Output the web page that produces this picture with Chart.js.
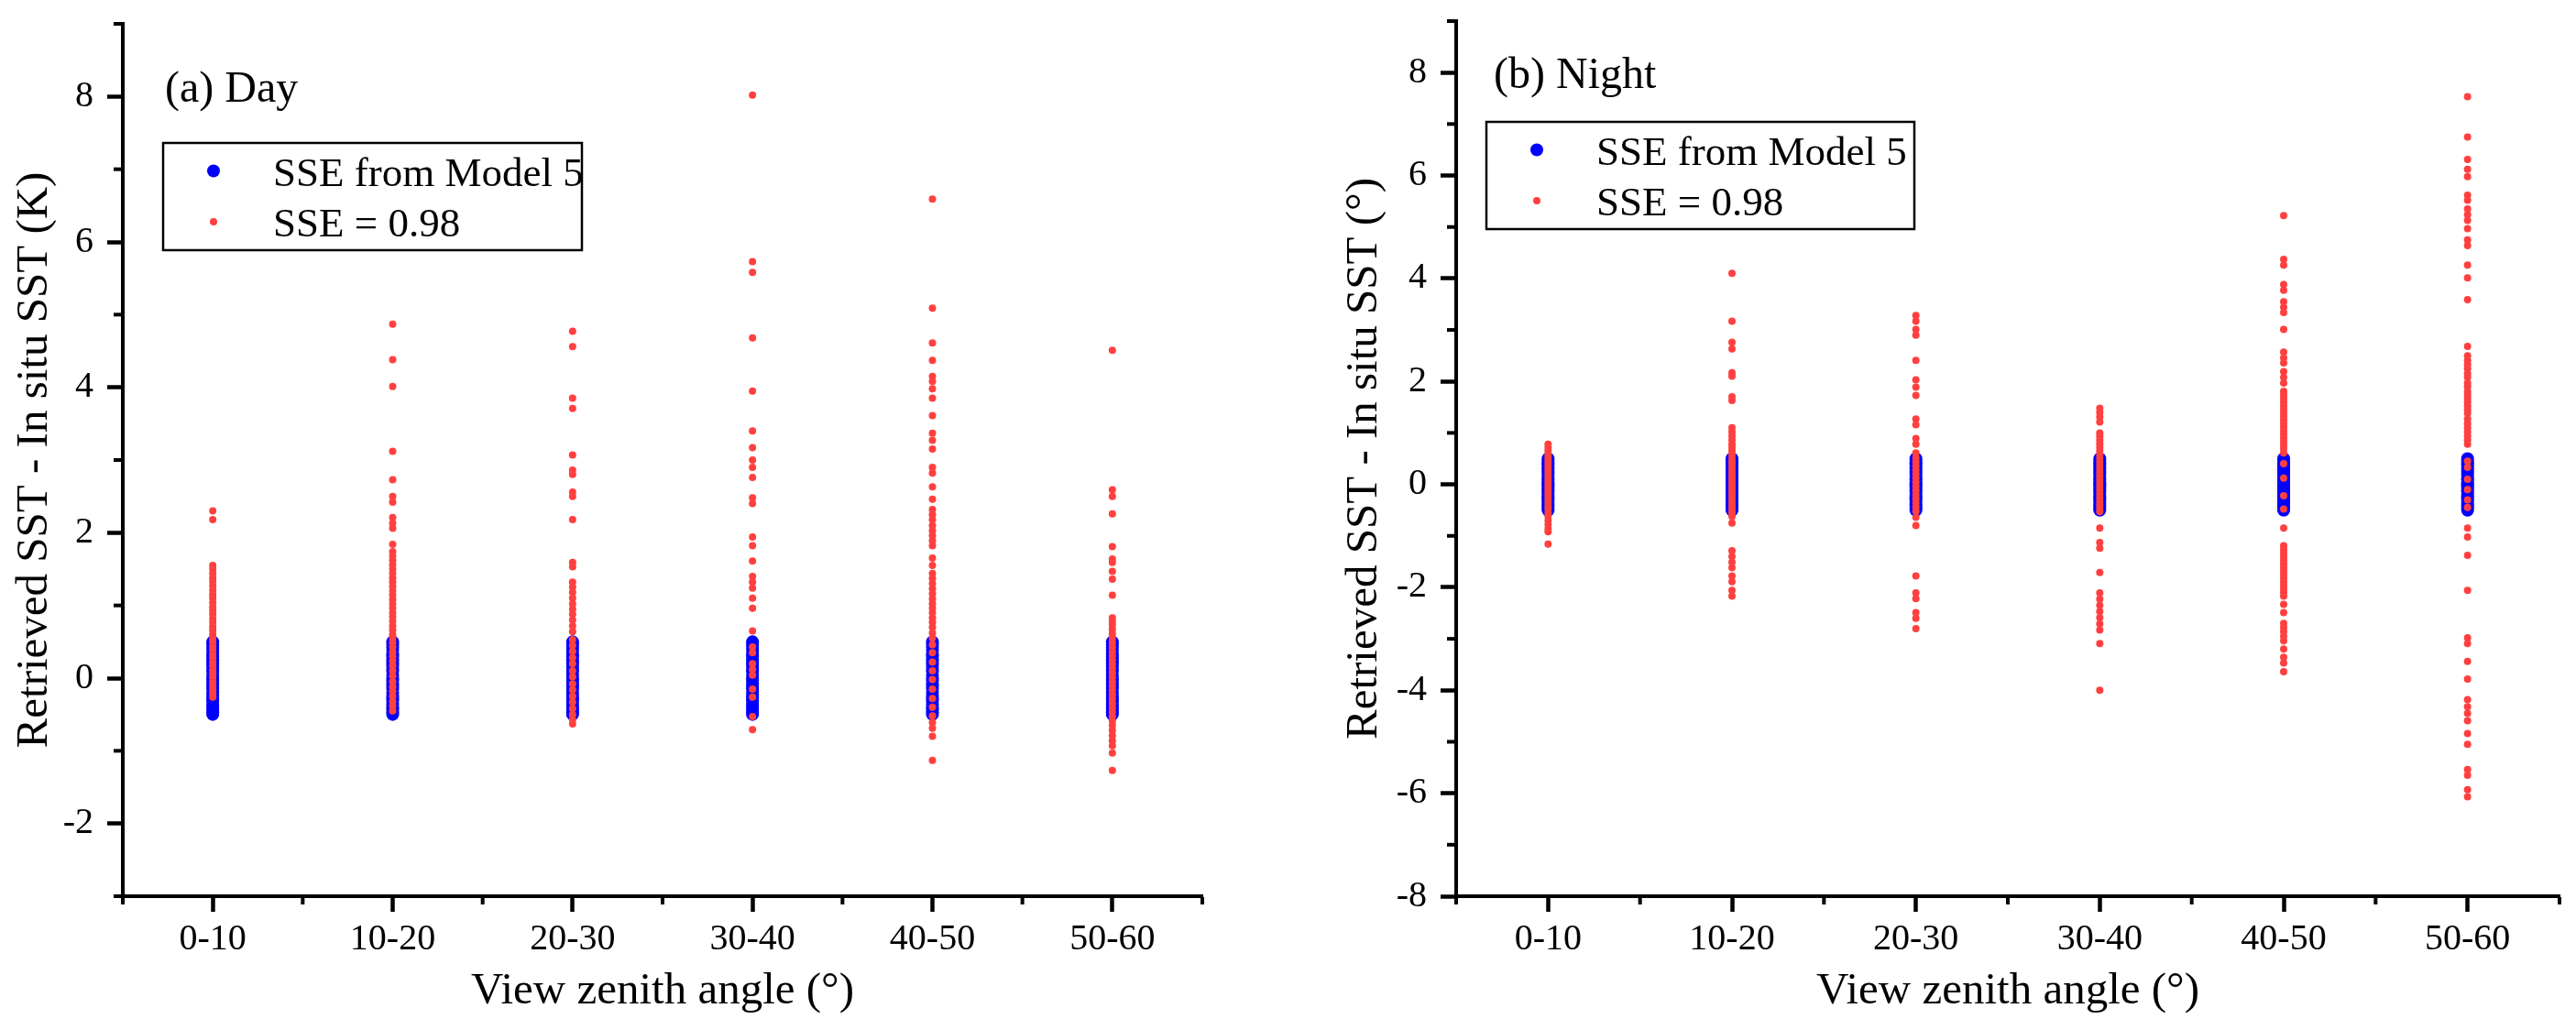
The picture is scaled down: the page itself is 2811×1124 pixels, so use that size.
<!DOCTYPE html>
<html>
<head>
<meta charset="utf-8">
<script src="https://cdn.jsdelivr.net/npm/chart.js@4.4.1/dist/chart.umd.min.js"></script>
<style>
  html, body { margin: 0; padding: 0; background: #fff; }
  #wrap { position: relative; width: 2811px; height: 1124px; overflow: hidden; background: #fff; }
  #dayCanvas { position: absolute; left: 0; top: 0; }
  #nightCanvas { position: absolute; left: 1405px; top: 0; }
</style>
</head>
<body>
<div id="wrap">
  <canvas id="dayCanvas" width="1405" height="1124"></canvas>
  <canvas id="nightCanvas" width="1406" height="1124"></canvas>
</div>
<script>
// ======================= DATA =======================

const categories = ['0-10', '10-20', '20-30', '30-40', '40-50', '50-60'];

// SSE from Model 5 : dense band in every angle class
const model5Band = [-0.5, -0.47, -0.43, -0.4, -0.36, -0.31, -0.28, -0.24, -0.2, -0.15, -0.12, -0.08,
  -0.03, 0, 0.04, 0.09, 0.12, 0.17, 0.21, 0.25, 0.3, 0.33, 0.38, 0.42, 0.46, 0.5];

// SSE = 0.98, day (one list per angle class)
const dayFixed0 = [2.30, 2.18, 1.55, 1.50, 1.44, 1.38, 1.33, 1.27, 1.21, 1.15, 1.10, 1.04, 0.98, 0.93, 0.88,
  0.82, 0.77, 0.71, 0.66, 0.60, 0.55, 0.50, 0.44, 0.39, 0.33, 0.28, 0.22, 0.17, 0.11, 0.06, 0.01, -0.05,
  -0.10, -0.16, -0.21, -0.26];
const dayFixed1 = [4.87, 4.38, 4.01, 3.12, 2.73, 2.50, 2.42, 2.21, 2.13, 2.06, 1.84, 1.74, 1.68, 1.62, 1.56,
  1.50, 1.44, 1.38, 1.32, 1.26, 1.20, 1.14, 1.08, 1.02, 0.96, 0.90, 0.84, 0.78, 0.72, 0.66, 0.60, 0.55, 0.49,
  0.43, 0.36, 0.30, 0.24, 0.17, 0.10, 0.03, -0.05, -0.12, -0.18, -0.25, -0.32, -0.38, -0.45];
const dayFixed2 = [4.77, 4.56, 3.85, 3.71, 3.07, 2.86, 2.80, 2.56, 2.50, 2.18, 1.59, 1.53, 1.32, 1.25, 1.18,
  1.10, 1.02, 0.95, 0.88, 0.80, 0.72, 0.64, 0.53, 0.45, 0.37, 0.28, 0.20, 0.10, 0.02, -0.08, -0.16, -0.25,
  -0.33, -0.42, -0.50, -0.57, -0.63];
const dayFixed3 = [8.02, 5.73, 5.58, 4.68, 3.95, 3.40, 3.17, 3.00, 2.90, 2.76, 2.48, 2.40, 1.94, 1.82, 1.61,
  1.40, 1.32, 1.24, 1.10, 0.96, 0.65, 0.43, 0.35, 0.20, 0.12, 0.04, -0.15, -0.26, -0.53, -0.71];
const dayFixed4 = [6.59, 5.09, 4.61, 4.37, 4.15, 4.08, 3.98, 3.85, 3.61, 3.37, 3.27, 3.15, 2.90, 2.82, 2.63,
  2.46, 2.32, 2.25, 2.18, 2.10, 2.03, 1.96, 1.89, 1.82, 1.65, 1.55, 1.44, 1.37, 1.30, 1.23, 1.16, 1.09, 1.02,
  0.96, 0.90, 0.83, 0.77, 0.70, 0.62, 0.55, 0.46, 0.35, 0.22, 0.10, -0.02, -0.15, -0.28, -0.40, -0.52, -0.61,
  -0.69, -0.80, -1.13];
const dayFixed5 = [4.51, 2.59, 2.50, 2.26, 1.81, 1.64, 1.59, 1.47, 1.36, 1.14, 0.83, 0.78, 0.73, 0.67, 0.61,
  0.55, 0.49, 0.43, 0.37, 0.31, 0.25, 0.19, 0.13, 0.07, 0.01, -0.05, -0.11, -0.17, -0.23, -0.29, -0.35, -0.41,
  -0.47, -0.53, -0.59, -0.65, -0.72, -0.79, -0.86, -0.93, -1.03, -1.27];

// SSE = 0.98, night
const nightFixed0 = [0.78, 0.72, 0.66, 0.60, 0.54, 0.48, 0.42, 0.36, 0.30, 0.24, 0.18, 0.12, 0.06, 0.00,
  -0.06, -0.12, -0.18, -0.24, -0.30, -0.36, -0.42, -0.48, -0.55, -0.62, -0.70, -0.78, -0.86, -0.92, -1.16];
const nightFixed1 = [4.10, 3.17, 2.76, 2.63, 2.17, 2.10, 1.70, 1.63, 1.10, 1.02, 0.94, 0.86, 0.78, 0.72, 0.65,
  0.58, 0.50, 0.43, 0.36, 0.29, 0.22, 0.15, 0.08, 0.01, -0.06, -0.13, -0.20, -0.27, -0.34, -0.41, -0.48,
  -0.55, -0.62, -0.75, -1.29, -1.40, -1.51, -1.62, -1.78, -1.89, -2.06, -2.17];
const nightFixed2 = [3.28, 3.17, 3.01, 2.90, 2.41, 2.03, 1.89, 1.73, 1.27, 1.16, 0.89, 0.78, 0.61, 0.52, 0.44,
  0.36, 0.28, 0.20, 0.12, 0.04, -0.04, -0.12, -0.20, -0.28, -0.36, -0.44, -0.52, -0.64, -0.80, -1.78, -2.11,
  -2.22, -2.49, -2.60, -2.80];
const nightFixed3 = [1.48, 1.40, 1.31, 1.21, 1.00, 0.93, 0.86, 0.79, 0.72, 0.65, 0.58, 0.51, 0.44, 0.37, 0.30,
  0.23, 0.16, 0.09, 0.02, -0.05, -0.12, -0.19, -0.26, -0.33, -0.40, -0.47, -0.53, -0.85, -1.13, -1.24, -1.71,
  -2.11, -2.23, -2.35, -2.47, -2.59, -2.71, -2.83, -3.09, -4.00];
const nightFixed4 = [5.22, 4.37, 4.26, 3.88, 3.77, 3.55, 3.44, 3.34, 3.01, 2.57, 2.46, 2.36, 2.19, 2.08, 1.97,
  1.81, 1.74, 1.67, 1.60, 1.53, 1.46, 1.39, 1.32, 1.25, 1.18, 1.11, 1.04, 0.97, 0.90, 0.83, 0.76, 0.69, 0.61,
  0.40, 0.12, -0.22, -0.48, -0.85, -1.19, -1.26, -1.33, -1.40, -1.47, -1.54, -1.61, -1.68, -1.75, -1.82,
  -1.89, -1.96, -2.03, -2.10, -2.17, -2.33, -2.49, -2.70, -2.78, -2.86, -2.95, -3.04, -3.20, -3.36, -3.47,
  -3.64];
const nightFixed5 = [7.53, 6.75, 6.31, 6.12, 5.98, 5.62, 5.52, 5.35, 5.24, 5.13, 4.97, 4.75, 4.64, 4.26, 4.01,
  3.59, 2.68, 2.50, 2.41, 2.33, 2.25, 2.15, 2.08, 1.97, 1.90, 1.81, 1.74, 1.67, 1.60, 1.52, 1.45, 1.38, 1.27,
  1.18, 1.10, 1.02, 0.94, 0.86, 0.78, 0.45, 0.33, 0.10, -0.10, -0.30, -0.45, -0.85, -1.02, -1.38, -2.06,
  -2.98, -3.09, -3.44, -3.78, -4.18, -4.32, -4.45, -4.59, -4.84, -5.05, -5.54, -5.65, -5.93, -6.07];

const dayFixed = [dayFixed0, dayFixed1, dayFixed2, dayFixed3, dayFixed4, dayFixed5];
const nightFixed = [nightFixed0, nightFixed1, nightFixed2, nightFixed3, nightFixed4, nightFixed5];

// axis ticks
const dayTicks = [-2, 0, 2, 4, 6, 8];
const dayMinor = [-3, -1, 1, 3, 5, 7, 9];
const nightTicks = [-8, -6, -4, -2, 0, 2, 4, 6, 8];
const nightMinor = [-7, -5, -3, -1, 1, 3, 5, 7, 9];

const seriesNames = ['SSE from Model 5', 'SSE = 0.98'];

// ======================= HELPERS =======================

const SERIF = "'Liberation Serif', 'Times New Roman', serif";
const BLUE = '#0000ff';
const RED = '#ff4040';

Chart.defaults.font.family = SERIF;
Chart.defaults.color = '#000';

function toPoints(lists) {
  const pts = [];
  lists.forEach((vals, i) => vals.forEach(v => pts.push({ x: categories[i], y: v })));
  return pts;
}

// minor ticks, panel title and framed legend
const panelDecor = {
  id: 'panelDecor',
  afterDraw(chart, args, opts) {
    const ctx = chart.ctx;
    const area = chart.chartArea;
    const xs = chart.scales.x;
    const ys = chart.scales.y;
    ctx.save();
    ctx.strokeStyle = '#000';
    ctx.lineWidth = 4;
    opts.minorY.forEach(v => {
      const py = ys.getPixelForValue(v);
      ctx.beginPath();
      ctx.moveTo(area.left - 1, py);
      ctx.lineTo(area.left - 10, py);
      ctx.stroke();
    });
    for (let i = 0; i <= categories.length; i++) {
      const px = xs.getPixelForValue(i - 0.5);
      ctx.beginPath();
      ctx.moveTo(px, area.bottom + 1);
      ctx.lineTo(px, area.bottom + 9);
      ctx.stroke();
    }

    // panel title
    ctx.fillStyle = '#000';
    ctx.font = '48px ' + SERIF;
    ctx.textAlign = 'left';
    ctx.textBaseline = 'alphabetic';
    ctx.fillText(opts.title, area.left + opts.titleDx, area.top + opts.titleDy);

    // legend box
    const bx = area.left + opts.legendDx;
    const by = area.top + opts.legendDy;
    ctx.lineWidth = 2.5;
    ctx.strokeRect(bx, by, opts.legendW, 117);
    const rows = [
      { y: by + 30.5, r: 7, color: BLUE, text: seriesNames[0] },
      { y: by + 86, r: 4, color: RED, text: seriesNames[1] }
    ];
    ctx.font = '45px ' + SERIF;
    rows.forEach(row => {
      ctx.fillStyle = row.color;
      ctx.beginPath();
      ctx.arc(bx + 55, row.y, row.r, 0, Math.PI * 2);
      ctx.fill();
      ctx.fillStyle = '#000';
      ctx.fillText(row.text, bx + 120, row.y + 16);
    });
    ctx.restore();
  }
};

function makePanel(canvasId, fixedLists, yMin, yMax, yTicks, yMinor, yTitle, cfg) {
  const ctx = document.getElementById(canvasId).getContext('2d');
  return new Chart(ctx, {
    type: 'scatter',
    data: {
      datasets: [
        {
          label: seriesNames[0],
          data: toPoints(categories.map(() => model5Band)),
          backgroundColor: BLUE,
          borderWidth: 0,
          pointRadius: 7,
          order: 2
        },
        {
          label: seriesNames[1],
          data: toPoints(fixedLists),
          backgroundColor: RED,
          borderWidth: 0,
          pointRadius: 4,
          order: 1
        }
      ]
    },
    options: {
      responsive: false,
      animation: false,
      devicePixelRatio: 1,
      events: [],
      layout: { padding: { left: 0, top: cfg.top, right: cfg.right, bottom: 0 } },
      scales: {
        x: {
          type: 'category',
          labels: categories,
          offset: true,
          afterFit: s => { s.height = 146; s.paddingLeft = 0; s.paddingRight = 0; },
          grid: {
            offset: false,
            drawOnChartArea: false,
            drawTicks: true,
            tickLength: 17,
            tickWidth: 4.5,
            tickColor: '#000'
          },
          border: { display: true, color: '#000', width: 4 },
          ticks: { color: '#000', padding: 6, font: { family: SERIF, size: 40 } },
          title: {
            display: true,
            text: 'View zenith angle (°)',
            color: '#000',
            font: { family: SERIF, size: 49 },
            padding: { top: 0, bottom: 12 }
          }
        },
        y: {
          type: 'linear',
          min: yMin,
          max: yMax,
          afterFit: s => { s.width = cfg.yWidth; s.paddingTop = 0; s.paddingBottom = 0; },
          afterBuildTicks: s => { s.ticks = yTicks.map(v => ({ value: v })); },
          grid: {
            drawOnChartArea: false,
            drawTicks: true,
            tickLength: 17,
            tickWidth: 4.5,
            tickColor: '#000'
          },
          border: { display: true, color: '#000', width: 4 },
          ticks: { color: '#000', padding: 15, font: { family: SERIF, size: 40 } },
          title: {
            display: true,
            text: yTitle,
            color: '#000',
            font: { family: SERIF, size: 49 },
            padding: { top: cfg.yTitlePad, bottom: 0 }
          }
        }
      },
      plugins: {
        legend: { display: false },
        tooltip: { enabled: false },
        panelDecor: {
          minorY: yMinor,
          title: cfg.title,
          titleDx: cfg.titleDx,
          titleDy: cfg.titleDy,
          legendDx: cfg.legendDx,
          legendDy: cfg.legendDy,
          legendW: cfg.legendW
        }
      }
    },
    plugins: [panelDecor]
  });
}

// ======================= CHARTS =======================

makePanel('dayCanvas', dayFixed, -3, 9, dayTicks, dayMinor, 'Retrieved SST - In situ SST (K)', {
  top: 26, right: 93, yWidth: 134, yTitlePad: 9,
  title: '(a) Day', titleDx: 46, titleDy: 85,
  legendDx: 44, legendDy: 130, legendW: 457
});

makePanel('nightCanvas', nightFixed, -8, 9, nightTicks, nightMinor, 'Retrieved SST - In situ SST (°)', {
  top: 23, right: 18, yWidth: 184, yTitlePad: 55,
  title: '(b) Night', titleDx: 41, titleDy: 73,
  legendDx: 33, legendDy: 110, legendW: 467
});
</script>
</body>
</html>
